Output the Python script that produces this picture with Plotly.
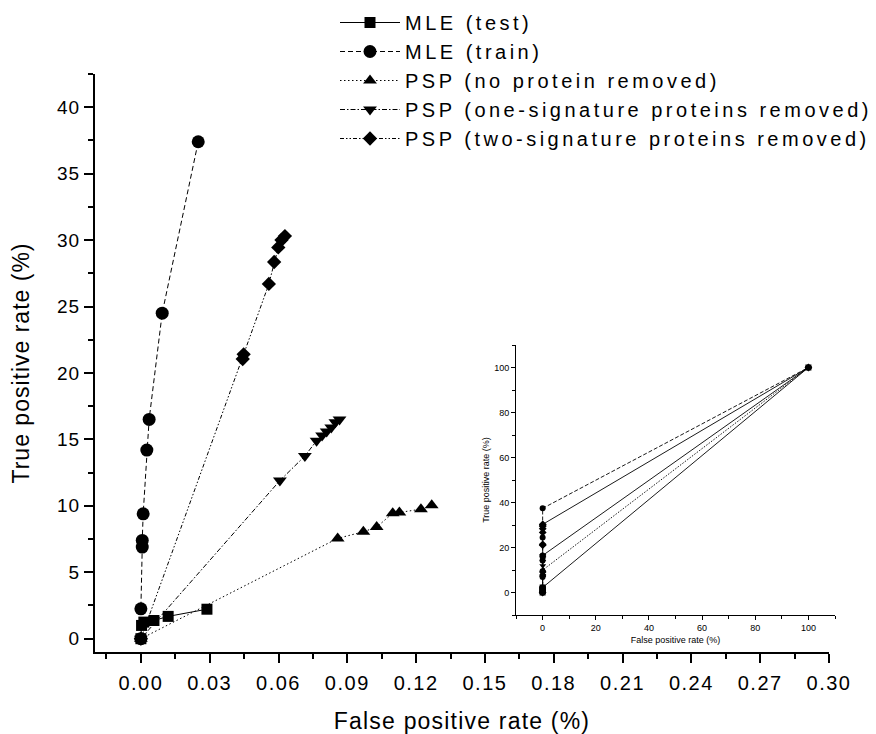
import plotly.graph_objects as go

# ---- data (false positive rate %, true positive rate %) ----
mle_test_fpr = [0.0, 0.0003, 0.0013, 0.0057, 0.0119, 0.0288]
mle_test_tpr = [0.0, 1.0, 1.25, 1.37, 1.68, 2.22]

mle_train_fpr = [0.0, 0.0, 0.0006, 0.0006, 0.0010, 0.0026, 0.0036, 0.0093, 0.0250]
mle_train_tpr = [0.0, 2.25, 6.9, 7.4, 9.4, 14.2, 16.5, 24.5, 37.4]

psp_none_fpr = [0.0, 0.0858, 0.0970, 0.1028, 0.1098, 0.1127, 0.1221, 0.1268]
psp_none_tpr = [0.0, 7.55, 8.05, 8.4, 9.45, 9.5, 9.75, 10.05]

psp_one_fpr = [0.0, 0.0606, 0.0715, 0.0766, 0.0790, 0.0810, 0.0830, 0.0848, 0.0866]
psp_one_tpr = [0.0, 11.9, 13.75, 14.9, 15.3, 15.6, 15.9, 16.3, 16.5]

psp_two_fpr = [0.0, 0.0444, 0.0448, 0.0558, 0.0581, 0.0599, 0.0613, 0.0628]
psp_two_tpr = [0.0, 21.05, 21.4, 26.7, 28.35, 29.45, 30.0, 30.3]

end_fpr = 100.0
end_tpr = 100.0

x_ticks = [0.00, 0.03, 0.06, 0.09, 0.12, 0.15, 0.18, 0.21, 0.24, 0.27, 0.30]
x_tick_labels = ["0.00", "0.03", "0.06", "0.09", "0.12", "0.15", "0.18", "0.21", "0.24", "0.27", "0.30"]
y_ticks = [0, 5, 10, 15, 20, 25, 30, 35, 40]
y_tick_labels = ["0", "5", "10", "15", "20", "25", "30", "35", "40"]

series_names = ["MLE (test)", "MLE (train)", "PSP (no protein removed)",
                "PSP (one-signature proteins removed)",
                "PSP (two-signature proteins removed)"]
series_x = [mle_test_fpr, mle_train_fpr, psp_none_fpr, psp_one_fpr, psp_two_fpr]
series_y = [mle_test_tpr, mle_train_tpr, psp_none_tpr, psp_one_tpr, psp_two_tpr]
symbols = ["square", "circle", "triangle-up", "triangle-down", "diamond"]
sizes = [11, 13, 12, 12, 11]
dashes = ["solid", "5px,3px", "1.5px,2.5px", "5px,2px,1.5px,2px", "4px,2px,1.5px,2px,1.5px,2px"]
inset_dashes = ["solid", "4px,2px", "1.5px,1.5px", "solid", "solid"]

FONT = "Liberation Sans, Arial, sans-serif"


def spaced(text, ls):
    return '<span style="letter-spacing:%spx">%s</span>' % (ls, text)


fig = go.Figure()
for name, xs, ys, sym, sz, dsh in zip(series_names, series_x, series_y, symbols, sizes, dashes):
    fig.add_trace(go.Scatter(
        x=xs, y=ys, name=spaced(name, 3.5), mode="lines+markers",
        line=dict(color="black", width=1, dash=dsh),
        marker=dict(symbol=sym, size=sz, color="black"),
        xaxis="x", yaxis="y",
    ))
for name, xs, ys, sym, dsh in zip(series_names, series_x, series_y, symbols, inset_dashes):
    fig.add_trace(go.Scatter(
        x=xs + [end_fpr], y=ys + [end_tpr], name=name, mode="lines+markers",
        line=dict(color="black", width=0.9, dash=dsh),
        marker=dict(symbol=sym, size=6, color="black"),
        xaxis="x2", yaxis="y2", showlegend=False,
    ))

# The page body adds an 8px margin, so figure pixels = page pixels - 8
OFF = 8
W, H = 868, 726
L, R, T, B = 95 - OFF, 41, 74 - OFF, 82
pw = W - L - R
ph = H - T - B


def px_x(p):
    return (p - OFF - L) / pw


def px_y(p):
    return (H - B - (p - OFF)) / ph


fig.update_layout(
    width=W, height=H,
    margin=dict(l=L, r=R, t=T, b=B, autoexpand=False),
    paper_bgcolor="white", plot_bgcolor="white",
    font=dict(family=FONT, color="black"),
    showlegend=True,
    legend=dict(
        x=px_x(335), y=px_y(3), xanchor="left", yanchor="top",
        font=dict(family=FONT, size=20, color="black"),
        bgcolor="rgba(0,0,0,0)", itemwidth=60, tracegroupgap=0,
    ),
    xaxis=dict(
        domain=[0, px_x(829)], range=[-0.02, 0.30],
        tickmode="array", tickvals=x_ticks,
        ticktext=[spaced(t, 1.5) for t in x_tick_labels],
        ticks="outside", ticklen=9, tickwidth=2, tickcolor="black",
        ticklabelstandoff=3,
        minor=dict(ticks="outside", ticklen=5, tickwidth=2, dtick=0.015, tick0=0, tickcolor="black"),
        showline=True, linewidth=2, linecolor="black", showgrid=False, zeroline=False,
        tickfont=dict(size=20),
        title=dict(text=spaced("False positive rate (%)", 1.2), font=dict(size=23), standoff=21),
        anchor="y", automargin=False,
    ),
    yaxis=dict(
        domain=[0, 1], range=[-1, 42.5],
        tickmode="array", tickvals=y_ticks,
        ticktext=[spaced(t, 1.0) for t in y_tick_labels],
        ticks="outside", ticklen=9, tickwidth=2, tickcolor="black",
        minor=dict(ticks="outside", ticklen=5, tickwidth=2, dtick=2.5, tick0=0, tickcolor="black"),
        showline=True, linewidth=2, linecolor="black", showgrid=False, zeroline=False,
        tickfont=dict(size=19),
        title=dict(text=spaced("True positive rate (%)", 1.0), font=dict(size=23), standoff=21),
        anchor="x", automargin=False,
    ),
    xaxis2=dict(
        domain=[px_x(516), px_x(835)], range=[-10, 110],
        tickmode="linear", tick0=0, dtick=20,
        ticks="outside", ticklen=4, tickwidth=1, tickcolor="black",
        minor=dict(ticks="outside", ticklen=3, tickwidth=1, dtick=10, tick0=0, tickcolor="black"),
        showline=True, linewidth=1, linecolor="black", showgrid=False, zeroline=False,
        tickfont=dict(size=9),
        title=dict(text="False positive rate (%)", font=dict(size=9), standoff=4),
        anchor="y2", automargin=False,
    ),
    yaxis2=dict(
        domain=[px_y(615), px_y(345)], range=[-10, 110],
        tickmode="linear", tick0=0, dtick=20,
        ticks="outside", ticklen=4, tickwidth=1, tickcolor="black",
        minor=dict(ticks="outside", ticklen=3, tickwidth=1, dtick=10, tick0=0, tickcolor="black"),
        showline=True, linewidth=1, linecolor="black", showgrid=False, zeroline=False,
        tickfont=dict(size=9),
        title=dict(text="True positive rate (%)", font=dict(size=9), standoff=3),
        anchor="x2", automargin=False,
    ),
)

fig.write_html("out.html")
